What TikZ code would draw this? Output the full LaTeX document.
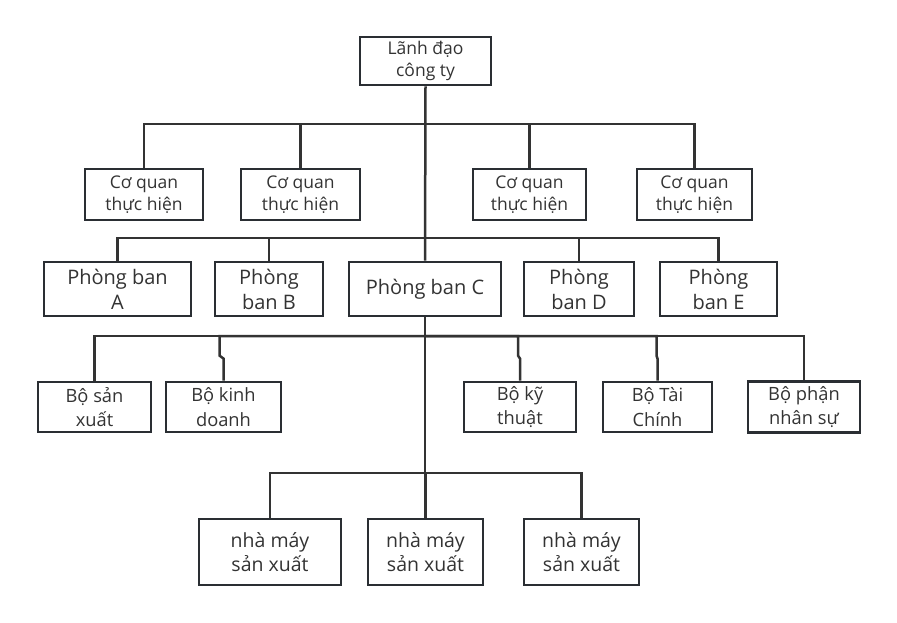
\documentclass[tikz,border=0pt]{standalone}
\usepackage{fontspec}
\setmainfont{Open Sans}
\definecolor{bord}{HTML}{2A2E33}
\definecolor{lnc}{HTML}{333333}
\definecolor{txt}{HTML}{333333}
\begin{document}
\begin{tikzpicture}[x=1pt,y=-1pt,
  bx/.style={draw=bord, line width=2.8pt, fill=white, inner sep=0pt, align=center, text=txt},
  ln/.style={draw=lnc, line width=2.5pt},
  fa/.style={font=\fontsize{17.5}{22.5}\selectfont},
  fb/.style={font=\fontsize{20}{25}\selectfont},
  fc/.style={font=\fontsize{18.3}{24.5}\selectfont},
  fd/.style={font=\fontsize{19.5}{24.5}\selectfont}]
\useasboundingbox (0,0) rectangle (897,622);
% bus coordinates
\coordinate (b1) at (425,124);
\coordinate (b2) at (425,238);
\coordinate (b3) at (425,336);
\coordinate (b4) at (425,473);
\node[bx, fa, minimum width=131pt, minimum height=48pt] (top) at (425.5,61) {Lãnh đạo\\công ty};
\node[bx, fb, minimum width=152pt, minimum height=54pt] (pC) at (425,289) {Phòng ban C};
\draw[ln] (top.south) -- (pC.north);
\draw[ln] (pC.south) -- (b4);
% row 1
\node[bx, fa, minimum width=118pt, minimum height=51pt] (cq1) at (144,194.5) {Cơ quan\\thực hiện};
\node[bx, fa, minimum width=119pt, minimum height=51pt] (cq2) at (300.5,194.5) {Cơ quan\\thực hiện};
\node[bx, fa, minimum width=113pt, minimum height=51pt] (cq3) at (529.5,194.5) {Cơ quan\\thực hiện};
\node[bx, fa, minimum width=115pt, minimum height=51pt] (cq4) at (694.5,194.5) {Cơ quan\\thực hiện};
\draw[ln] (cq1.north) -- (cq1.north |- b1) -- (cq4.north |- b1) -- (cq4.north);
\draw[ln] (cq2.north) -- (cq2.north |- b1);
\draw[ln] (cq3.north) -- (cq3.north |- b1);
% row 2
\node[bx, fb, minimum width=147pt, minimum height=54pt] (pA) at (117.5,289) {Phòng ban\\A};
\node[bx, fb, minimum width=108pt, minimum height=54pt] (pB) at (269,289) {Phòng\\ban B};
\node[bx, fb, minimum width=110pt, minimum height=54pt] (pD) at (579,289) {Phòng\\ban D};
\node[bx, fb, minimum width=117pt, minimum height=54pt] (pE) at (718.5,289) {Phòng\\ban E};
\draw[ln] (pA.north) -- (pA.north |- b2) -- (pE.north |- b2) -- (pE.north);
\draw[ln] (pB.north) -- (pB.north |- b2);
\draw[ln] (pD.north) -- (pD.north |- b2);
% row 3
\node[bx, fc, minimum width=113pt, minimum height=50pt] (sx) at (94.5,407) {Bộ sản\\xuất};
\node[bx, fc, minimum width=115pt, minimum height=50pt] (kd) at (223.5,407) {Bộ kinh\\doanh};
\node[bx, fc, minimum width=112pt, minimum height=50pt] (kt) at (520,407) {Bộ kỹ\\thuật};
\node[bx, fc, minimum width=109pt, minimum height=50pt] (tc) at (657.5,407) {Bộ Tài\\Chính};
\node[bx, fc, minimum width=112pt, minimum height=51pt] (ns) at (804,407) {Bộ phận\\nhân sự};
\draw[ln] (sx.north) -- (sx.north |- b3) -- (ns.north |- b3) -- (ns.north);
\draw[ln] (kd.north) -- ++(0,-22) -- ++(-4,-3) |- (b3);
\draw[ln] (kt.north) -- ++(0,-22) -- ++(-2,-3) |- (b3);
\draw[ln] (tc.north) -- ++(0,-22) -- ++(-1,-3) |- (b3);
% row 4
\node[bx, fd, minimum width=142pt, minimum height=66pt] (n1) at (270,552) {nhà máy\\sản xuất};
\node[bx, fd, minimum width=115pt, minimum height=66pt] (n2) at (425.5,552) {nhà máy\\sản xuất};
\node[bx, fd, minimum width=115pt, minimum height=66pt] (n3) at (581.5,552) {nhà máy\\sản xuất};
\draw[ln] (n1.north) -- (n1.north |- b4) -- (n3.north |- b4) -- (n3.north);
\draw[ln] (n2.north) -- (n2.north |- b4);
\end{tikzpicture}
\end{document}
